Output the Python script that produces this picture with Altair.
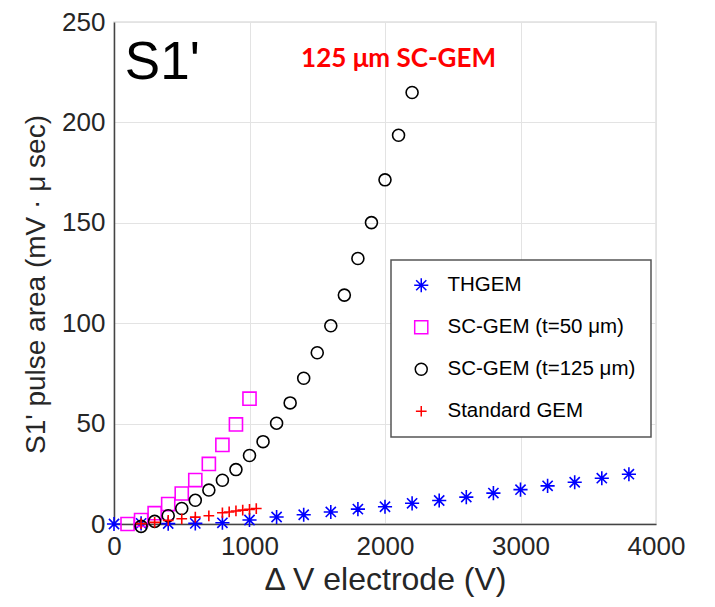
import altair as alt
import pandas as pd

series_names = ["THGEM", "SC-GEM (t=50 μm)", "SC-GEM (t=125 μm)", "Standard GEM"]
series_colors = ["#0000ff", "#ff00ff", "#000000", "#ff0000"]

thgem_v = [0, 200, 400, 600, 800, 1000, 1200, 1400, 1600, 1800, 2000,
           2200, 2400, 2600, 2800, 3000, 3200, 3400, 3600, 3800]
thgem_y = [0, 0.3, 0.2, 0.3, 0.6, 2.0, 3.5, 4.6, 6.0, 7.4, 8.6,
           10.3, 11.7, 13.4, 15.4, 17.1, 19.0, 20.8, 22.8, 24.8]

sc50_v = [100, 200, 300, 400, 500, 600, 700, 800, 900, 1000]
sc50_y = [0, 2.0, 5.4, 9.9, 15.2, 21.9, 29.9, 39.4, 49.6, 62.4]

sc125_v = [200, 300, 400, 500, 600, 700, 800, 900, 1000, 1100, 1200,
           1300, 1400, 1500, 1600, 1700, 1800, 1900, 2000, 2100, 2200]
sc125_y = [-1.2, 1.3, 4.1, 7.7, 11.8, 16.9, 21.8, 27.1, 34.1, 41.0, 50.2,
           60.3, 72.6, 85.3, 98.7, 114.0, 132.2, 150.1, 171.4, 193.6, 214.9]

std_v = [200, 300, 400, 500, 600, 700, 800, 850, 900, 950, 1000, 1050]
std_y = [0.2, 0.8, 1.8, 2.6, 3.4, 4.1, 5.6, 6.0, 6.5, 6.9, 7.3, 7.7]

x_ticks = [0, 1000, 2000, 3000, 4000]
y_ticks = [0, 50, 100, 150, 200, 250]

rows = []
for name, vs, ys in [(series_names[0], thgem_v, thgem_y),
                     (series_names[1], sc50_v, sc50_y),
                     (series_names[2], sc125_v, sc125_y),
                     (series_names[3], std_v, std_y)]:
    for v, y in zip(vs, ys):
        rows.append({"series": name, "V": v, "area": y})
df = pd.DataFrame(rows)

asterisk = "M0,-1L0,1M-1,0L1,0M-0.72,-0.72L0.72,0.72M-0.72,0.72L0.72,-0.72"
plus = "M0,-1L0,1M-1,0L1,0"

FONT = "Liberation Sans"
TXT = "#262626"

x_scale = alt.Scale(domain=[0, 4000], nice=False)
y_scale = alt.Scale(domain=[0, 250], nice=False)

points = alt.Chart(df).mark_point(filled=False, strokeWidth=1.6, opacity=1).encode(
    x=alt.X("V:Q", scale=x_scale,
            axis=alt.Axis(values=x_ticks, title="Δ V electrode (V)", format="d",
                          labelFlush=False,
                          titleX=271, titleY=55, titleBaseline="middle",
                          titleFontSize=32, labelPadding=9)),
    y=alt.Y("area:Q", scale=y_scale,
            axis=alt.Axis(values=y_ticks, title="S1' pulse area (mV · μ sec)",
                          format="d", labelFlush=False,
                          titleX=-78, titleY=262, titleAngle=270,
                          titleAlign="center", titleBaseline="middle",
                          titleFontSize=28, labelPadding=9)),
    color=alt.Color("series:N",
                    scale=alt.Scale(domain=series_names, range=series_colors),
                    legend=alt.Legend(title=None, orient="none",
                                      legendX=277, legendY=238)),
    shape=alt.Shape("series:N",
                    scale=alt.Scale(domain=series_names,
                                    range=[asterisk, "square", "circle", plus])),
    size=alt.Size("series:N",
                  scale=alt.Scale(domain=series_names, range=[200, 115, 175, 320]),
                  legend=None),
)

labels_df = pd.DataFrame({
    "V": [80, 2100],
    "area": [221.6, 227.7],
    "label": ["S1'", "125 μm SC-GEM"],
})

s1_text = alt.Chart(labels_df.iloc[[0]]).mark_text(
    align="left", baseline="alphabetic", font=FONT, fontSize=53, color="#000000"
).encode(x=alt.X("V:Q", scale=x_scale), y=alt.Y("area:Q", scale=y_scale), text="label:N")

gem_text = alt.Chart(labels_df.iloc[[1]]).mark_text(
    align="center", baseline="alphabetic", font="Lato", fontWeight="bold",
    fontSize=26, color="#ff0000"
).encode(x=alt.X("V:Q", scale=x_scale), y=alt.Y("area:Q", scale=y_scale), text="label:N")

chart = alt.layer(points, s1_text, gem_text).properties(
    width=542, height=502,
    padding={"left": 106, "top": 14, "right": 40, "bottom": 78},
    autosize=alt.AutoSizeParams(type="none"),
).configure_view(
    stroke="#e0e0e0", strokeWidth=1.5
).configure_axis(
    grid=True, gridColor="#e3e3e3", gridWidth=1,
    domainColor="#444444", domainWidth=1.5,
    ticks=False,
    labelFont=FONT, labelFontSize=26, labelColor=TXT,
    titleFont=FONT, titleColor=TXT, titleFontWeight="normal",
).configure_legend(
    fillColor="#ffffff", strokeColor="#555555", strokeWidth=1.5,
    padding=15, rowPadding=21, symbolOffset=5, labelOffset=16, labelLimit=0,
    labelFont=FONT, labelFontSize=20.5, labelColor="#000000",
    symbolSize=170, symbolStrokeWidth=1.5, symbolType="circle",
    cornerRadius=0,
)

chart.save("out.html", embed_options={"renderer": "svg", "actions": False})
